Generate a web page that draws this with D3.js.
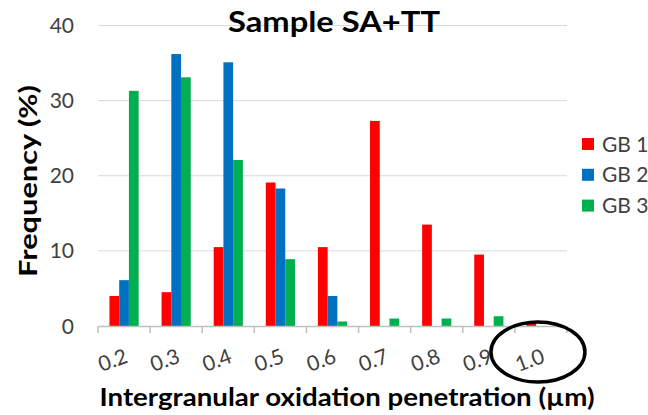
<!DOCTYPE html>
<html><head><meta charset="utf-8">
<script src="https://cdn.jsdelivr.net/npm/d3@7"></script>
<style>body{margin:0;background:#fff}svg{display:block}text{font-family:Lato,"Open Sans",sans-serif}</style>
</head><body><div id="chart"></div>
<script>
const categories = ["0.2","0.3","0.4","0.5","0.6","0.7","0.8","0.9","1.0"];
const seriesNames = ["GB 1","GB 2","GB 3"];
const gb1 = [4.0, 4.5, 10.5, 19.1, 10.5, 27.3, 13.5, 9.5, 0.3];
const gb2 = [6.1, 36.2, 35.1, 18.3, 4.0, 0, 0, 0, 0];
const gb3 = [31.3, 33.1, 22.1, 8.9, 0.6, 1.0, 1.0, 1.3, 0];
const yTicks = [0, 10, 20, 30, 40];
const colors = ["#ff0000", "#0070c0", "#00b050"];

const W = 648, H = 415;
const m = {left: 98, right: 81, top: 25.5, bottom: 89};
const svg = d3.select("#chart").append("svg").attr("width", W).attr("height", H);

const x = d3.scaleBand().domain(categories).range([m.left, W - m.right]);
const xs = d3.scaleBand().domain(seriesNames).range([0, x.bandwidth()]).paddingInner(0).paddingOuter(1.18);
const y = d3.scaleLinear().domain([0, 40]).range([H - m.bottom, m.top]);

// gridlines
svg.append("g").selectAll("line").data(yTicks.filter(d => d > 0)).join("line")
  .attr("x1", m.left).attr("x2", W - m.right)
  .attr("y1", d => y(d)).attr("y2", d => y(d))
  .attr("stroke", "#d9d9d9").attr("stroke-width", 1);

// y labels
svg.append("g").selectAll("text").data(yTicks).join("text")
  .attr("x", 74).attr("y", d => y(d)).attr("dy", "0.36em")
  .attr("text-anchor", "end").attr("font-size", 21).attr("fill", "#404040")
  .text(d => d);

// bars
const data = [gb1, gb2, gb3];
data.forEach((vals, si) => {
  svg.append("g").selectAll("rect").data(vals).join("rect")
    .attr("x", (d, i) => x(categories[i]) + xs(seriesNames[si]))
    .attr("width", xs.bandwidth())
    .attr("y", d => y(d))
    .attr("height", d => y(0) - y(d))
    .attr("fill", colors[si]);
});

// x axis
const xAxis = d3.axisBottom(x).tickSize(0).tickFormat("");
const gx = svg.append("g").attr("transform", `translate(0,${y(0)})`).call(xAxis);
gx.select(".domain").attr("stroke", "#bfbfbf").attr("stroke-width", 1.5);
const tickPos = categories.map(c => x(c)).concat([x(categories[categories.length-1]) + x.bandwidth()]);
svg.append("g").selectAll("line").data(tickPos).join("line")
  .attr("x1", d => d).attr("x2", d => d).attr("y1", y(0)).attr("y2", y(0) + 7)
  .attr("stroke", "#bfbfbf").attr("stroke-width", 1.5);

svg.append("g").selectAll("text").data(categories).join("text")
  .attr("transform", c => `translate(${x(c) + x.bandwidth()/2 + 5},${y(0) + 36}) rotate(-20)`)
  .attr("text-anchor", "end").attr("font-size", 21).attr("fill", "#404040")
  .text(c => c);

// titles
svg.append("text").attr("x", 334).attr("y", 32).attr("text-anchor", "middle")
  .attr("font-size", 29).attr("font-weight", "bold").attr("fill", "#000")
  .attr("textLength", 212).attr("lengthAdjust", "spacingAndGlyphs").text("Sample SA+TT");
svg.append("text").attr("x", 347).attr("y", 406).attr("text-anchor", "middle")
  .attr("font-size", 25).attr("font-weight", "bold").attr("fill", "#000")
  .attr("textLength", 495).attr("lengthAdjust", "spacingAndGlyphs")
  .text("Intergranular oxidation penetration (µm)");
svg.append("text").attr("transform", "translate(37,181) rotate(-90)").attr("text-anchor", "middle")
  .attr("font-size", 25).attr("font-weight", "bold").attr("fill", "#000")
  .attr("textLength", 192).attr("lengthAdjust", "spacingAndGlyphs").text("Frequency (%)");

// legend
const lg = svg.append("g").selectAll("g").data(seriesNames).join("g")
  .attr("transform", (d, i) => `translate(582,${144 + i * 30.8})`);
lg.append("rect").attr("x", 0).attr("y", -6).attr("width", 12).attr("height", 12)
  .attr("fill", (d, i) => colors[i]);
lg.append("text").attr("x", 20).attr("y", 0).attr("dy", "0.36em").attr("font-size", 21)
  .attr("fill", "#404040").text(d => d);

// highlight ellipse
svg.append("ellipse").attr("cx", x("1.0") + x.bandwidth()/2 - 3).attr("cy", 352)
  .attr("rx", 47).attr("ry", 30).attr("fill", "none").attr("stroke", "#000").attr("stroke-width", 3.5);
</script></body></html>
